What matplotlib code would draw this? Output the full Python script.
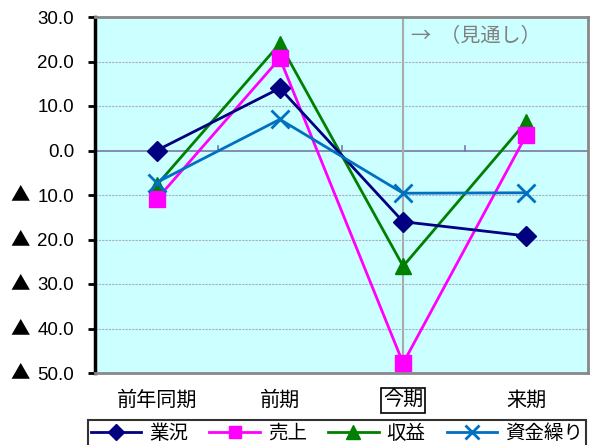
import numpy as np
import matplotlib.pyplot as plt

plt.rcParams['font.family'] = ['Liberation Sans', 'Noto Sans CJK JP', 'DejaVu Sans']

periods = ["前年同期", "前期", "今期", "来期"]
gyokyo = [0.0, 14.0, -16.0, -19.2]
uriage = [-11.0, 20.7, -47.8, 3.5]
shueki = [-7.8, 24.0, -26.0, 6.5]
shikin = [-7.2, 7.0, -9.6, -9.5]
yticks = [30, 20, 10, 0, -10, -20, -30, -40, -50]


def main():
    fig = plt.figure(figsize=(5.96, 4.45), dpi=100)
    ax = fig.add_axes([95 / 596, 1 - 373 / 445, 493 / 596, 356 / 445])
    ax.set_facecolor("#CCFFFF")

    x = np.arange(len(periods))
    ax.plot(x, gyokyo, color="#000080", marker="D", markersize=10, lw=2, label="業況", zorder=5)
    ax.plot(x, uriage, color="#FF00FF", marker="s", markersize=11, lw=2, label="売上", zorder=4)
    ax.plot(x, shueki, color="#008000", marker="^", markersize=12, lw=2, label="収益", zorder=3)
    ax.plot(x, shikin, color="#0070C0", marker="x", markersize=13, mew=2, lw=2, label="資金繰り", zorder=6)

    ax.set_xlim(-0.5, 3.5)
    ax.set_ylim(-50, 30)
    ax.set_yticks(yticks)
    ax.set_yticklabels(["%.1f" % abs(v) for v in yticks], fontsize=13.5)
    # negative values are marked with a triangle
    for v in yticks:
        if v < 0:
            ax.text(-0.152, v, "▲", transform=ax.get_yaxis_transform(), fontsize=14,
                    ha="center", va="center", family=['Noto Sans CJK JP'])
    for v in yticks:
        if v not in (30, -50, 0):
            ax.axhline(v, color="#aaaacc", lw=0.8, ls=(0, (2, 1)), zorder=1)
    ax.axhline(0, color="#7777aa", lw=1.2, zorder=1)
    for b in [0.5, 1.5, 2.5]:
        ax.plot([b, b], [0, 1.0], color="#7777aa", lw=1.2, zorder=1)
    ax.axvline(2, color="#aaaaaa", lw=1.5, zorder=2)
    ax.text(2.06, 25.5, "→  （見通し）", color="#808080", fontsize=14.5, va="center",
            family=['Noto Sans CJK JP'])

    ax.set_xticks(x)
    ax.set_xticklabels(periods, fontsize=14.5, family=['Noto Sans CJK JP'])
    ax.tick_params(axis="x", length=0, pad=12)
    ax.tick_params(axis="y", direction="out", length=5, width=2, pad=10)
    ax.get_xticklabels()[2].set_bbox(dict(facecolor="white", edgecolor="black", pad=1.5, lw=1.2))

    ax.spines["left"].set_linewidth(2.5)
    ax.spines["left"].set_color("black")
    for s in ["top", "right", "bottom"]:
        ax.spines[s].set_color("#888888")
        ax.spines[s].set_linewidth(2)

    leg = fig.legend(loc="upper left", bbox_to_anchor=(78 / 596, 1 - 410 / 445), ncol=4,
                     prop={'family': 'Noto Sans CJK JP', 'size': 14},
                     frameon=True, fancybox=False, edgecolor="black", handlelength=2.6,
                     columnspacing=1.1, handletextpad=0.4, borderpad=0.15, markerscale=0.8)
    leg.get_frame().set_linewidth(1.5)

    plt.savefig("out.png")


if __name__ == "__main__":
    main()
